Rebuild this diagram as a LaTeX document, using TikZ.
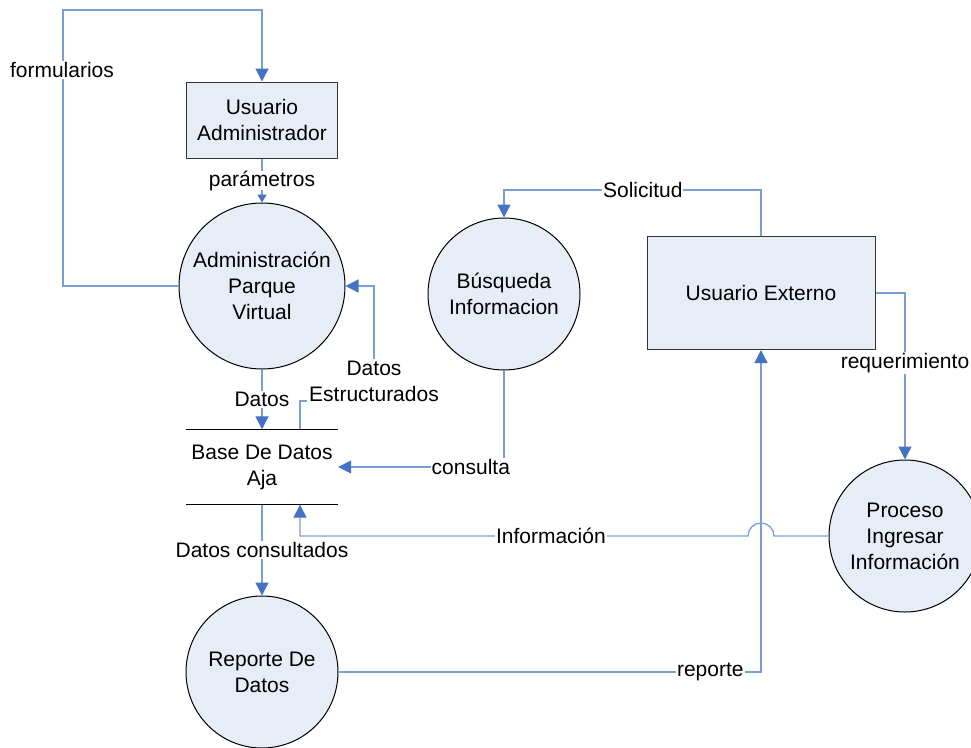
\documentclass[tikz,border=0pt]{standalone}
\usepackage{fontspec}
\setmainfont{Liberation Sans}
\usetikzlibrary{positioning, shapes, arrows.meta}
\definecolor{nodefill}{RGB}{231,237,247}
\definecolor{flowblue}{RGB}{120,160,215}
\definecolor{tipblue}{RGB}{68,114,196}

\begin{document}
\begin{tikzpicture}[
    x=1pt, y=-1pt,
    font=\fontsize{21}{26}\selectfont,
    entity/.style={rectangle, draw=black!80, line width=1pt, fill=nodefill, align=center, inner sep=0pt},
    process/.style={circle, draw, line width=1pt, fill=nodefill, align=center, inner sep=0pt, minimum size=152pt},
    store/.style={minimum width=152pt, minimum height=75pt, align=center, inner sep=0pt},
    flow/.style={draw=flowblue, line width=1.3pt, -{Triangle[length=13pt, width=13pt, color=tipblue]}},
    flowlabel/.style={fill=white, inner sep=1pt}
]
\useasboundingbox (0,0) rectangle (971,747);

% External entities
\node[entity, minimum width=151pt, minimum height=76pt] (uadmin) at (262,120) {Usuario\\Administrador};
\node[entity, minimum width=228pt, minimum height=113pt] (uext) at (761,293) {Usuario Externo};

% Processes
\node[process, minimum size=166pt] (admin) at (262,286) {Administración\\Parque\\Virtual};
\node[process] (busq) at (504,294) {Búsqueda\\Informacion};
\node[process] (proc) at (905,536) {Proceso\\Ingresar\\Información};
\node[process] (rep) at (262,672) {Reporte De\\Datos};

% Data store
\node[store] (bd) at (262,467) {Base De Datos\\Aja};
\draw[line width=1pt] (bd.north west) -- (bd.north east);
\draw[line width=1pt] (bd.south west) -- (bd.south east);

% Flows
\draw[flow] (admin.west) -| (63,10) -| (uadmin.north);
\node[flowlabel] (lform) at (62,70) {formularios};

\draw[flow, -{Triangle[length=8pt, width=9pt, color=tipblue]}] (uadmin) -- node[flowlabel, inner sep=0pt]{parámetros} (admin);

\draw[flow] (admin) -- node[flowlabel]{Datos} (bd.north);

\draw[flow] ([xshift=38pt]bd.north) |- (374,401) |- (admin.east);
\node[flowlabel, align=center, inner sep=2pt] (lestr) at (374,381) {Datos\\Estructurados};

\draw[flow] (busq.south) |- node[flowlabel, pos=0.6]{consulta} (bd.east);

\draw[flow] (bd.south) -- node[flowlabel]{Datos consultados} (rep);

\draw[flow] (proc.west) -- (774,536) arc[start angle=0, end angle=-180, radius=13]
    -- node[flowlabel, pos=0.44]{Información} (300,536) -- ([xshift=38pt]bd.south);

\draw[flow] (uext.north) -- ++(0,-46) -| node[flowlabel, pos=0.23]{Solicitud} (busq.north);

\draw[flow] (uext.east) -| node[flowlabel, pos=0.71]{requerimiento} (proc.north);

\draw[flow] (rep.east) -| node[flowlabel, pos=0.44]{reporte} (uext.south);

\end{tikzpicture}
\end{document}
